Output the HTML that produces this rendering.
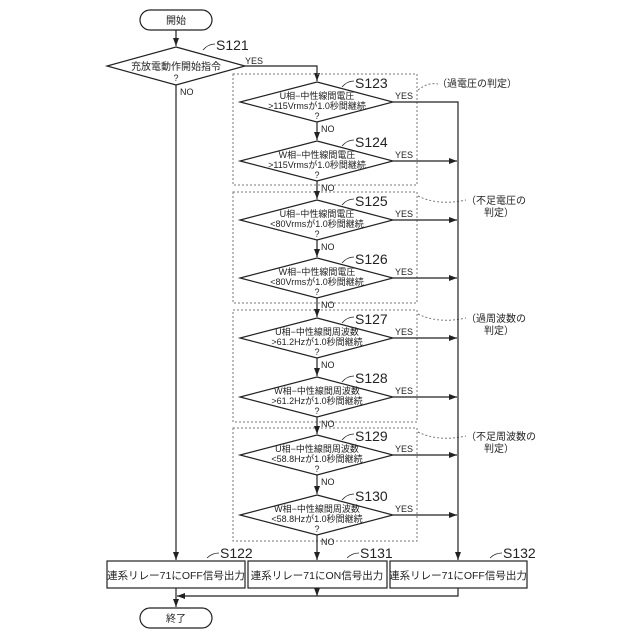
<!DOCTYPE html>
<html><head><meta charset="utf-8"><style>
html,body{margin:0;padding:0;background:#fff}
svg{display:block}
text{font-family:"Liberation Sans","Noto Sans CJK JP",sans-serif;fill:#222}
</style></head><body>
<svg width="640" height="640" viewBox="0 0 640 640" xmlns="http://www.w3.org/2000/svg">
<defs><marker id="a" markerWidth="8" markerHeight="6" refX="8" refY="3" orient="auto" markerUnits="userSpaceOnUse"><path d="M0,0 L8,3 L0,6 z" fill="#222"/></marker></defs>
<g stroke="#222" stroke-width="1.2" fill="none">
<rect x="140" y="10" width="72" height="20" rx="10"/>
<line x1="176" y1="30" x2="176" y2="46" marker-end="url(#a)"/>
<polygon points="176,47 245,66 176,85 107,66" fill="#fff"/>
<polyline points="245,66 317,66 317,81" marker-end="url(#a)"/>
<line x1="176" y1="85" x2="176" y2="560" marker-end="url(#a)"/>
<g stroke-dasharray="2,2" stroke="#777" stroke-width="1">
<rect x="233" y="74" width="184" height="111"/>
<rect x="233" y="192" width="184" height="111"/>
<rect x="233" y="310" width="184" height="112"/>
<rect x="233" y="428" width="184" height="113"/>
<path d="M418,90 q10,-8 20,-6"/>
<path d="M418,196 q20,10 48,4"/>
<path d="M418,314 q20,10 48,4"/>
<path d="M418,432 q20,10 48,4"/>
</g>
<polyline points="393,102 458,102 458,560" marker-end="url(#a)"/>
<line x1="393" y1="161" x2="457" y2="161" marker-end="url(#a)"/>
<line x1="393" y1="220" x2="457" y2="220" marker-end="url(#a)"/>
<line x1="393" y1="278" x2="457" y2="278" marker-end="url(#a)"/>
<line x1="393" y1="338" x2="457" y2="338" marker-end="url(#a)"/>
<line x1="393" y1="397" x2="457" y2="397" marker-end="url(#a)"/>
<line x1="393" y1="455" x2="457" y2="455" marker-end="url(#a)"/>
<line x1="393" y1="515" x2="457" y2="515" marker-end="url(#a)"/>
<line x1="317" y1="122" x2="317" y2="140" marker-end="url(#a)"/>
<line x1="317" y1="181" x2="317" y2="199" marker-end="url(#a)"/>
<line x1="317" y1="240" x2="317" y2="257" marker-end="url(#a)"/>
<line x1="317" y1="298" x2="317" y2="317" marker-end="url(#a)"/>
<line x1="317" y1="358" x2="317" y2="376" marker-end="url(#a)"/>
<line x1="317" y1="417" x2="317" y2="434" marker-end="url(#a)"/>
<line x1="317" y1="475" x2="317" y2="494" marker-end="url(#a)"/>
<line x1="317" y1="535" x2="317" y2="560" marker-end="url(#a)"/>
<g fill="#fff">
<polygon points="317,82 393,102 317,122 240,102"/>
<polygon points="317,141 393,161 317,181 240,161"/>
<polygon points="317,200 393,220 317,240 240,220"/>
<polygon points="317,258 393,278 317,298 240,278"/>
<polygon points="317,318 393,338 317,358 240,338"/>
<polygon points="317,377 393,397 317,417 240,397"/>
<polygon points="317,435 393,455 317,475 240,455"/>
<polygon points="317,495 393,515 317,535 240,515"/>
<rect x="107" y="561" width="138" height="27"/>
<rect x="248" y="561" width="139" height="27"/>
<rect x="390" y="561" width="137" height="27"/>
</g>
<line x1="176" y1="588" x2="176" y2="607" marker-end="url(#a)"/>
<line x1="317" y1="588" x2="317" y2="596" marker-end="url(#a)"/>
<polyline points="458,588 458,596 177,596" marker-end="url(#a)"/>
<rect x="140" y="608" width="72" height="20" rx="10"/>
<path d="M203,50 q5,-6 12,-6 M342,87 q5,-6 12,-6 M342,146 q5,-6 12,-6 M342,205 q5,-6 12,-6 M342,263 q5,-6 12,-6 M342,323 q5,-6 12,-6 M342,382 q5,-6 12,-6 M342,440 q5,-6 12,-6 M342,500 q5,-6 12,-6 M207,558 q5,-5 12,-5 M347,558 q5,-5 12,-5 M490,558 q5,-5 12,-5" stroke-width="0.8"/>
</g>
<g font-size="10" text-anchor="middle">
<text x="176" y="24">開始</text>
<text x="176" y="622">終了</text>
<text x="176" y="70">充放電動作開始指令</text><text x="176" y="81" font-size="9">?</text>
</g>
<g font-size="14">
<text x="216" y="50">S121</text>
<text x="355" y="88">S123</text><text x="355" y="147">S124</text><text x="355" y="206">S125</text><text x="355" y="264">S126</text>
<text x="355" y="324">S127</text><text x="355" y="383">S128</text><text x="355" y="441">S129</text><text x="355" y="501">S130</text>
<text x="220" y="558">S122</text><text x="360" y="558">S131</text><text x="503" y="558">S132</text>
</g>
<g font-size="9">
<text x="245" y="64">YES</text><text x="180" y="95">NO</text>
<text x="395" y="99">YES</text><text x="395" y="158">YES</text><text x="395" y="217">YES</text><text x="395" y="275">YES</text>
<text x="395" y="335">YES</text><text x="395" y="394">YES</text><text x="395" y="452">YES</text><text x="395" y="512">YES</text>
<text x="321" y="132">NO</text><text x="321" y="191">NO</text><text x="321" y="250">NO</text><text x="321" y="308">NO</text>
<text x="321" y="368">NO</text><text x="321" y="427">NO</text><text x="321" y="485">NO</text><text x="321" y="545">NO</text>
</g>
<g font-size="9" text-anchor="middle">
<text x="317" y="99">U相−中性線間電圧</text><text x="317" y="109">&gt;115Vrmsが1.0秒間継続</text><text x="317" y="119">?</text>
<text x="317" y="158">W相−中性線間電圧</text><text x="317" y="168">&gt;115Vrmsが1.0秒間継続</text><text x="317" y="178">?</text>
<text x="317" y="217">U相−中性線間電圧</text><text x="317" y="227">&lt;80Vrmsが1.0秒間継続</text><text x="317" y="237">?</text>
<text x="317" y="275">W相−中性線間電圧</text><text x="317" y="285">&lt;80Vrmsが1.0秒間継続</text><text x="317" y="295">?</text>
<text x="317" y="335">U相−中性線間周波数</text><text x="317" y="345">&gt;61.2Hzが1.0秒間継続</text><text x="317" y="355">?</text>
<text x="317" y="394">W相−中性線間周波数</text><text x="317" y="404">&gt;61.2Hzが1.0秒間継続</text><text x="317" y="414">?</text>
<text x="317" y="452">U相−中性線間周波数</text><text x="317" y="462">&lt;58.8Hzが1.0秒間継続</text><text x="317" y="472">?</text>
<text x="317" y="512">W相−中性線間周波数</text><text x="317" y="522">&lt;58.8Hzが1.0秒間継続</text><text x="317" y="532">?</text>
</g>
<g font-size="10.5" text-anchor="middle">
<text x="176" y="579">連系リレー71にOFF信号出力</text>
<text x="317" y="579">連系リレー71にON信号出力</text>
<text x="458" y="579">連系リレー71にOFF信号出力</text>
</g>
<g font-size="10">
<text x="437" y="87">（過電圧の判定）</text>
<text x="466" y="204">（不足電圧の</text><text x="484" y="216">判定）</text>
<text x="466" y="322">（過周波数の</text><text x="484" y="334">判定）</text>
<text x="466" y="440">（不足周波数の</text><text x="484" y="452">判定）</text>
</g>
</svg>
</body></html>
